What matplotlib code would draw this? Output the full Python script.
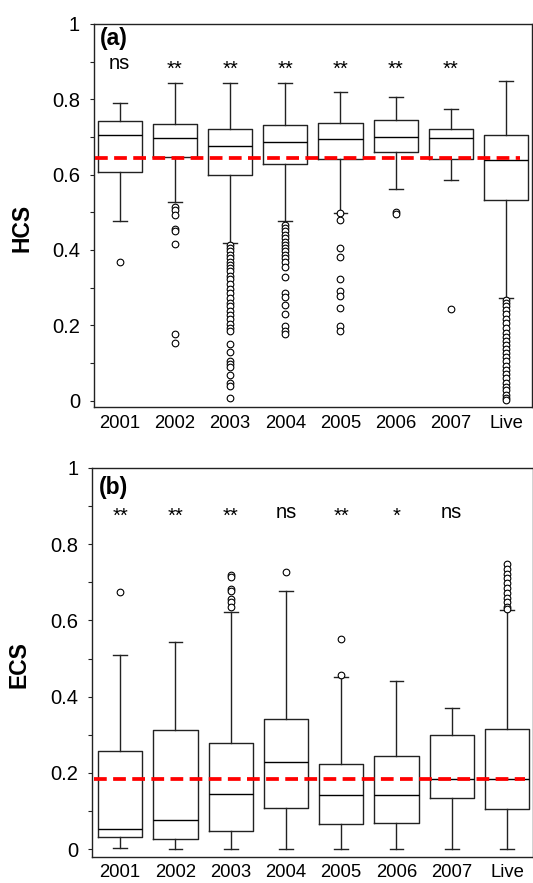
import numpy as np
import matplotlib.pyplot as plt
from matplotlib.ticker import MultipleLocator, FuncFormatter

plt.rcParams['font.family'] = ['Liberation Sans', 'DejaVu Sans']

# ------------------------------------------
# data
# ------------------------------------------
groups = ['2001', '2002', '2003', '2004', '2005', '2006', '2007', 'Live']

# (a) HCS
hcs_whislo = [0.478, 0.528, 0.419, 0.478, 0.499, 0.562, 0.585, 0.273]
hcs_q1 = [0.608, 0.647, 0.600, 0.628, 0.642, 0.661, 0.640, 0.532]
hcs_med = [0.704, 0.698, 0.676, 0.687, 0.695, 0.701, 0.698, 0.639]
hcs_q3 = [0.742, 0.735, 0.722, 0.731, 0.737, 0.744, 0.721, 0.706]
hcs_whishi = [0.789, 0.843, 0.843, 0.843, 0.820, 0.807, 0.773, 0.848]
hcs_out = [
    [0.367],
    [0.513, 0.506, 0.493, 0.455, 0.449, 0.417, 0.177, 0.153],
    [0.413, 0.404, 0.396, 0.387, 0.378, 0.369, 0.360, 0.351, 0.343, 0.332,
     0.322, 0.310, 0.297, 0.285, 0.272, 0.260, 0.250, 0.238, 0.228, 0.216,
     0.204, 0.193, 0.184, 0.151, 0.129, 0.106, 0.097, 0.090, 0.067, 0.046,
     0.039, 0.006],
    [0.466, 0.457, 0.449, 0.440, 0.431, 0.422, 0.413, 0.404, 0.396, 0.387,
     0.378, 0.369, 0.354, 0.327, 0.285, 0.276, 0.254, 0.230, 0.197, 0.186,
     0.177],
    [0.497, 0.479, 0.404, 0.382, 0.323, 0.291, 0.279, 0.245, 0.197, 0.186],
    [0.500, 0.495],
    [0.243],
    [0.268, 0.260, 0.251, 0.240, 0.229, 0.216, 0.205, 0.192, 0.180, 0.170,
     0.159, 0.148, 0.136, 0.126, 0.115, 0.104, 0.092, 0.081, 0.071, 0.059,
     0.048, 0.037, 0.027, 0.015, 0.006, 0.002],
]
hcs_sig = ['ns', '**', '**', '**', '**', '**', '**', '']
hcs_ref = 0.643

# (b) ECS
ecs_whislo = [0.002, 0.000, 0.000, 0.000, 0.000, 0.000, 0.000, 0.000]
ecs_q1 = [0.032, 0.026, 0.047, 0.108, 0.067, 0.068, 0.135, 0.104]
ecs_med = [0.053, 0.077, 0.145, 0.228, 0.141, 0.141, 0.184, 0.185]
ecs_q3 = [0.257, 0.312, 0.278, 0.340, 0.223, 0.243, 0.298, 0.314]
ecs_whishi = [0.508, 0.544, 0.621, 0.677, 0.451, 0.441, 0.369, 0.627]
ecs_out = [
    [0.675],
    [],
    [0.718, 0.714, 0.682, 0.676, 0.656, 0.648, 0.636],
    [0.727],
    [0.551, 0.457],
    [],
    [],
    [0.747, 0.735, 0.722, 0.711, 0.698, 0.685, 0.672, 0.658, 0.647, 0.635,
     0.630],
]
ecs_sig = ['**', '**', '**', 'ns', '**', '*', 'ns', '']
ecs_ref = 0.184

# ------------------------------------------
# figure
# ------------------------------------------
fig = plt.figure(figsize=(5.33, 8.83), dpi=100)
ax_a = fig.add_axes([0.176, 0.539, 0.822, 0.434])
ax_b = fig.add_axes([0.173, 0.0294, 0.827, 0.4406])

line_col = '#222222'


def draw_panel(ax, lo, q1, med, q3, hi, out, sig, ref, ylabel, tag,
               xlim, ylim, ref_span, sig_base, tag_y, label_y, xpad):
    pos = np.arange(1, len(groups) + 1)
    stats = []
    for i in range(len(groups)):
        stats.append(dict(whislo=lo[i], q1=q1[i], med=med[i], q3=q3[i],
                          whishi=hi[i], fliers=out[i]))

    ax.bxp(stats, positions=pos, widths=0.8, capwidths=0.25,
           boxprops=dict(color=line_col, linewidth=1.0),
           medianprops=dict(color='black', linewidth=1.0),
           whiskerprops=dict(color=line_col, linewidth=1.0),
           capprops=dict(color=line_col, linewidth=1.0),
           flierprops=dict(marker='o', markerfacecolor='white',
                           markeredgecolor='black', markersize=4.8,
                           markeredgewidth=0.8))

    # reference level
    ax.hlines(ref, ref_span[0], ref_span[1], colors='red', linewidth=2.7,
              linestyles=(0, (3.4, 1.7)), zorder=5)

    # significance labels
    for p, s in zip(pos, sig):
        if not s:
            continue
        if '*' in s:
            ax.text(p, sig_base[1], s, ha='center', va='baseline', fontsize=14.5)
        else:
            ax.text(p, sig_base[0], s, ha='center', va='baseline', fontsize=14.5)

    ax.text(0.014, tag_y, tag, transform=ax.transAxes, ha='left', va='center',
            fontsize=16.5, fontweight='bold')

    ax.set_xlim(*xlim)
    ax.set_ylim(*ylim)
    ax.set_xticks(pos)
    ax.set_xticklabels(groups)
    ax.yaxis.set_major_locator(MultipleLocator(0.2))
    ax.yaxis.set_minor_locator(MultipleLocator(0.1))
    ax.yaxis.set_major_formatter(FuncFormatter(lambda v, _: f'{v:g}'))

    ax.tick_params(axis='x', length=0, pad=xpad, labelsize=13.3)
    ax.tick_params(axis='y', which='both', direction='out', length=2.9,
                   width=0.8, color=line_col, pad=7, labelsize=14.5)

    ax.set_ylabel(ylabel, fontsize=16.5, fontweight='bold', va='center')
    ax.yaxis.set_label_coords(-0.165, label_y)

    for sp in ax.spines.values():
        sp.set_linewidth(1.0)
        sp.set_color(line_col)


draw_panel(ax_a, hcs_whislo, hcs_q1, hcs_med, hcs_q3, hcs_whishi, hcs_out,
           hcs_sig, hcs_ref, 'HCS', '(a)',
           xlim=(0.53, 8.47), ylim=(-0.017, 1.0), ref_span=(0.56, 8.25),
           sig_base=(0.881, 0.864), tag_y=0.962, label_y=0.467, xpad=5.8)

draw_panel(ax_b, ecs_whislo, ecs_q1, ecs_med, ecs_q3, ecs_whishi, ecs_out,
           ecs_sig, ecs_ref, 'ECS', '(b)',
           xlim=(0.494, 8.47), ylim=(-0.021, 1.0), ref_span=(0.52, 8.32),
           sig_base=(0.869, 0.858), tag_y=0.951, label_y=0.494, xpad=4.8)

fig.savefig('out.png', dpi=100)
